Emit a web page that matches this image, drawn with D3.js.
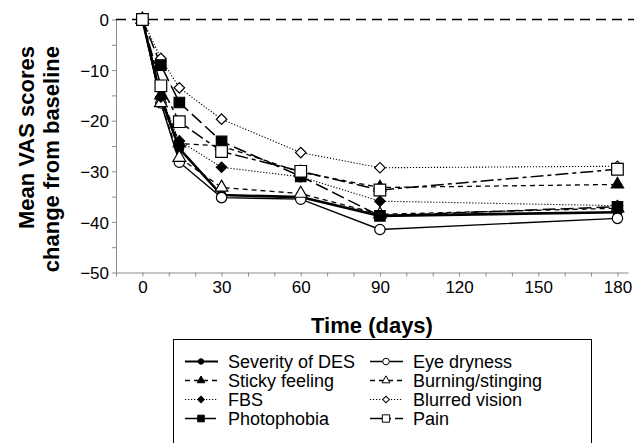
<!DOCTYPE html>
<html>
<head>
<meta charset="utf-8">
<script src="https://cdn.jsdelivr.net/npm/d3@7"></script>
<style>
  body { margin: 0; background: #fff; }
  svg text { font-family: "Liberation Sans", Arial, sans-serif; }
</style>
</head>
<body>
<svg id="chart" width="634" height="443"></svg>
<script>
const days = [0, 7, 14, 30, 60, 90, 180];
const severity = [0, -15.5, -25.5, -34.7, -35.1, -38.8, -38.1];
const eyeDryness = [0, -16.5, -28.2, -35.2, -35.5, -41.5, -39.3];
const sticky = [0, -15, -24.5, -25, -30.2, -33.2, -32.6];
const burning = [0, -16.5, -27.3, -33.2, -34.4, -38.5, -37.3];
const fbs = [0, -15.3, -24.0, -29.2, -31.1, -35.9, -36.8];
const blurred = [0, -7.7, -13.5, -19.7, -26.3, -29.3, -29.0];
const photophobia = [0, -9.0, -16.4, -24.1, -31.0, -38.8, -37.0];
const pain = [0, -13.1, -20.2, -26.1, -30.0, -33.7, -29.6];

const yTicks = d3.range(-50, 1, 5);
const xTicks = d3.range(-10, 181, 10);

const series = [
  { name: 'Severity of DES', values: severity, shape: d3.symbolCircle, size: 60, filled: true, dash: null, width: 2.6 },
  { name: 'Eye dryness', values: eyeDryness, shape: d3.symbolCircle, size: 85, filled: false, dash: null, width: 1.4 },
  { name: 'Sticky feeling', values: sticky, shape: d3.symbolTriangle, size: 65, filled: true, dash: '5,4', width: 1.3 },
  { name: 'Burning/stinging', values: burning, shape: d3.symbolTriangle, size: 70, filled: false, dash: '5,4', width: 1.3 },
  { name: 'FBS', values: fbs, shape: d3.symbolSquare, size: 55, rotate: 45, filled: true, dash: '1.2,1.8', width: 1.1 },
  { name: 'Blurred vision', values: blurred, shape: d3.symbolSquare, size: 55, rotate: 45, filled: false, dash: '1.2,1.8', width: 1.1 },
  { name: 'Photophobia', values: photophobia, shape: d3.symbolSquare, size: 110, filled: true, dash: '13,5', width: 1.5 },
  { name: 'Pain', values: pain, shape: d3.symbolSquare, size: 135, filled: false, dash: '13,4,4,4', width: 1.5 }
];

const svg = d3.select('#chart');

const x = d3.scaleLinear().domain([-10, 184]).range([116, 628]);
const y = d3.scaleLinear().domain([-50, 0]).range([272.5, 19.5]);

// axes
const yAxis = svg.append('g')
  .attr('transform', `translate(${x(-10)},0)`)
  .call(d3.axisLeft(y).tickValues(yTicks).tickSize(4).tickSizeOuter(0)
    .tickFormat((d) => (d % 10 === 0 ? d3.format('d')(d) : '')));

const xAxis = svg.append('g')
  .attr('transform', `translate(0,${y(-50)})`)
  .call(d3.axisBottom(x).tickValues(xTicks).tickSize(4).tickSizeOuter(0)
    .tickFormat((d) => (d >= 0 && d % 30 === 0 ? d : '')));

[yAxis, xAxis].forEach((g) => {
  g.attr('font-family', null).attr('font-size', null);
  g.selectAll('path, line').attr('stroke', '#8c8c8c');
  g.selectAll('text').attr('fill', '#000').style('font-size', '17px');
});
yAxis.selectAll('text').attr('x', -7).attr('dy', '0.36em');
xAxis.selectAll('text').attr('y', 8).attr('dy', '0.75em');

// zero reference line
svg.append('line')
  .attr('x1', x(-10)).attr('x2', 634)
  .attr('y1', y(0)).attr('y2', y(0))
  .attr('stroke', '#000')
  .attr('stroke-width', 1.5)
  .attr('stroke-dasharray', '10,6');

// axis titles
svg.append('text')
  .attr('x', 372).attr('y', 333)
  .attr('text-anchor', 'middle')
  .style('font-size', '22px').style('font-weight', 'bold')
  .text('Time (days)');

['Mean VAS scores', 'change from baseline'].forEach((t, i) => {
  svg.append('text')
    .attr('transform', `translate(${34 + i * 25},46) rotate(-90)`)
    .attr('text-anchor', 'end')
    .style('font-size', '22px').style('font-weight', 'bold')
    .text(t);
});

// lines and markers
const line = d3.line()
  .x((d, i) => x(days[i]))
  .y((d) => y(d));

series.forEach((s) => {
  svg.append('path')
    .datum(s.values)
    .attr('fill', 'none')
    .attr('stroke', '#000')
    .attr('stroke-width', s.width)
    .attr('stroke-dasharray', s.dash)
    .attr('d', line);
});

series.forEach((s) => {
  svg.selectAll(null)
    .data(s.values)
    .enter()
    .append('path')
    .attr('transform', (d, i) => `translate(${x(days[i])},${y(d)}) rotate(${s.rotate || 0})`)
    .attr('d', d3.symbol().type(s.shape).size(s.size))
    .attr('fill', s.filled ? '#000' : '#fff')
    .attr('stroke', '#000')
    .attr('stroke-width', 1.2);
});

// legend
const legend = svg.append('g');
legend.append('rect')
  .attr('x', 173.5).attr('y', 339.5)
  .attr('width', 418).attr('height', 120)
  .attr('fill', '#fff')
  .attr('stroke', '#000')
  .attr('stroke-width', 1);

series.forEach((s, i) => {
  const col = i % 2;
  const row = Math.floor(i / 2);
  const lx = col === 0 ? 185 : 370;
  const ly = 361.5 + row * 19;
  legend.append('line')
    .attr('x1', lx).attr('x2', lx + 33)
    .attr('y1', ly).attr('y2', ly)
    .attr('stroke', '#000')
    .attr('stroke-width', Math.min(s.width, 2.2))
    .attr('stroke-dasharray', s.dash);
  legend.append('path')
    .attr('transform', `translate(${lx + 16},${ly}) rotate(${s.rotate || 0})`)
    .attr('d', d3.symbol().type(s.shape).size(s.size * 0.4))
    .attr('fill', s.filled ? '#000' : '#fff')
    .attr('stroke', '#000')
    .attr('stroke-width', 1);
  legend.append('text')
    .attr('x', lx + 43).attr('y', ly)
    .attr('dy', '0.35em')
    .style('font-size', '18px')
    .text(s.name);
});
</script>
</body>
</html>
